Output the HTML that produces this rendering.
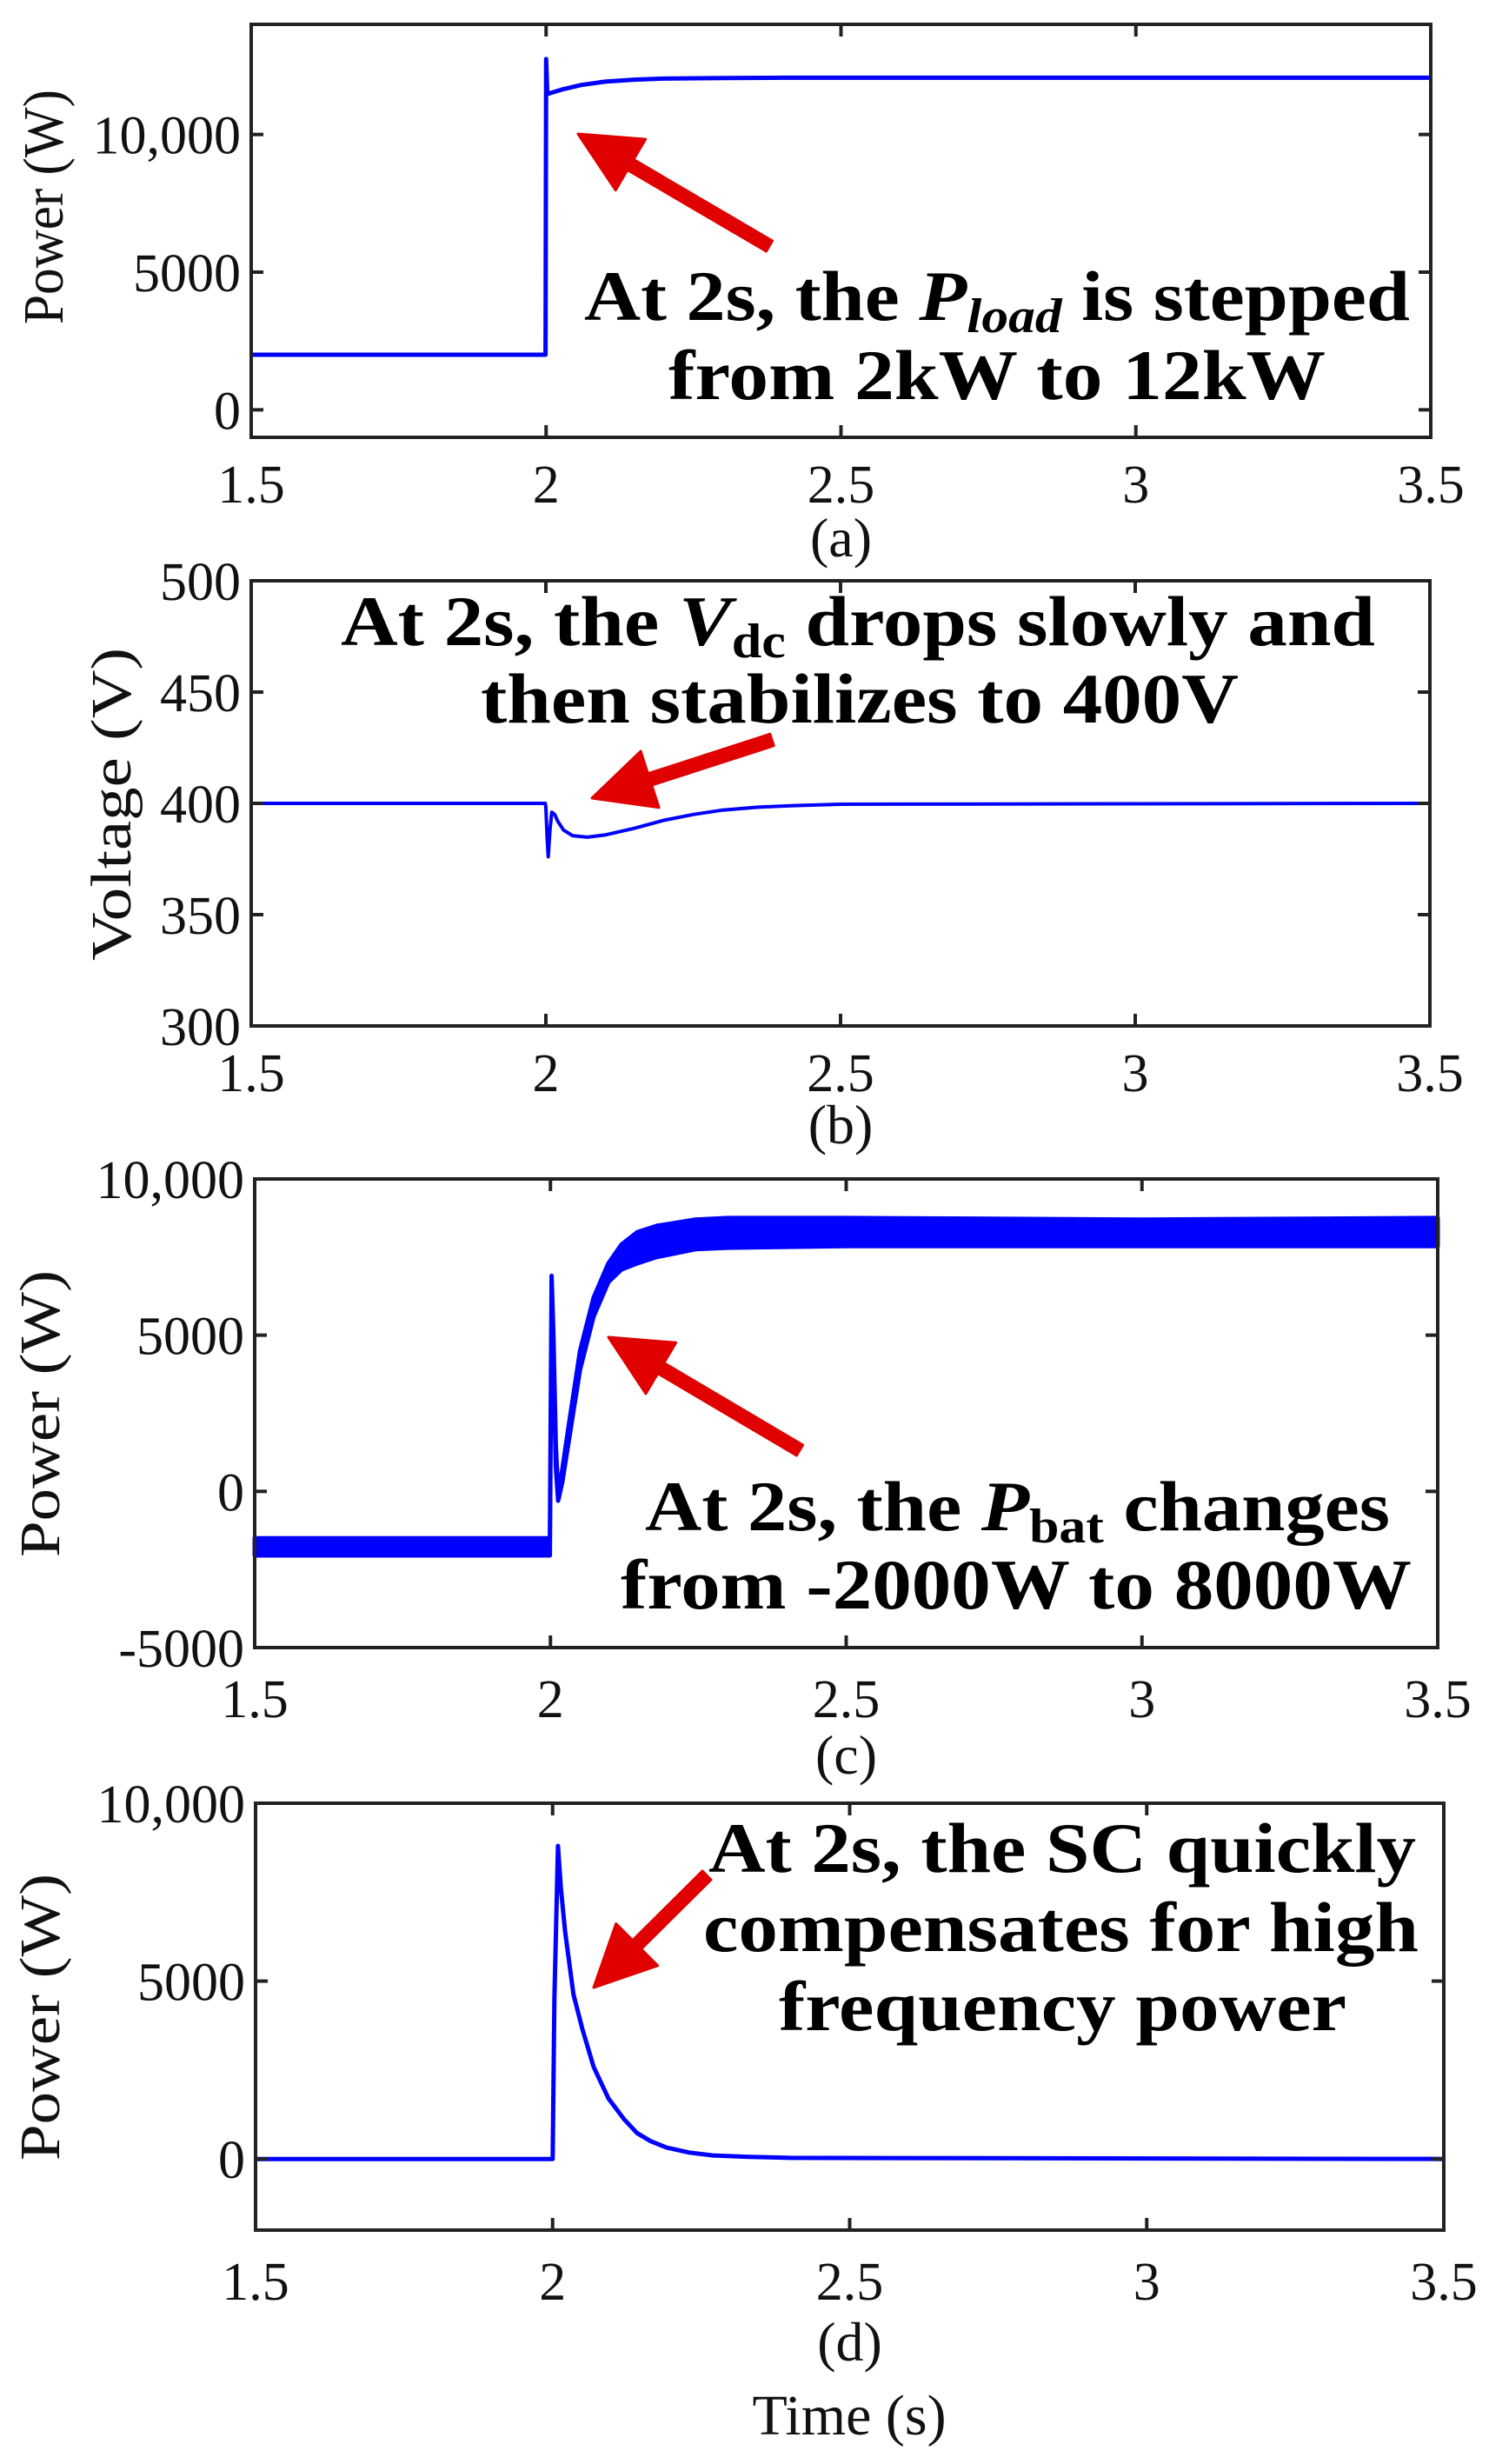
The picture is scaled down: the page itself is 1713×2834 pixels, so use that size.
<!DOCTYPE html>
<html><head><meta charset="utf-8">
<style>
html,body{margin:0;padding:0;background:#fff;}
svg{display:block;}
text{font-family:"Liberation Serif",serif;fill:#111;}
.tick{font-size:62px;}
.ann{font-size:82px;font-weight:bold;fill:#000;}
</style></head>
<body>
<svg id="chart" width="1713" height="2834" viewBox="0 0 1713 2834" xmlns="http://www.w3.org/2000/svg"></svg>
<script>
// ---- data ----
const xTicks = [1.5, 2, 2.5, 3, 3.5];
const xTickLabels = ["1.5", "2", "2.5", "3", "3.5"];

const aTime = [1.5, 1.999, 2.0, 2.002, 2.004, 2.01, 2.03, 2.06, 2.1, 2.15, 2.2, 2.3, 2.4, 3.5];
const aPower = [2000, 2000, 12740, 11500, 11480, 11520, 11650, 11800, 11920, 11990, 12030, 12050, 12060, 12060];
const aYTicks = [0, 5000, 10000];
const aYTickLabels = ["0", "5000", "10,000"];

const bTime = [1.5, 1.999, 2.0, 2.002, 2.004, 2.007, 2.01, 2.015, 2.02, 2.03, 2.045, 2.07, 2.1, 2.15, 2.2, 2.25, 2.3, 2.36, 2.42, 2.5, 3.5];
const bVolt = [400, 400, 398, 385, 376, 388, 396, 395, 392, 388, 385.5, 384.8, 385.8, 388.8, 392.4, 395, 397, 398.3, 399, 399.6, 400];
const bYTicks = [300, 350, 400, 450, 500];
const bYTickLabels = ["300", "350", "400", "450", "500"];

const cTime = [1.5, 1.999, 2.002, 2.005, 2.009, 2.013, 2.02, 2.03, 2.05, 2.073, 2.098, 2.12, 2.147, 2.18, 2.245, 2.3, 2.5, 3.0, 3.5];
const cUpper = [-1500, -1500, 6900, 5000, 1500, -100, 700, 2000, 4500, 6200, 7300, 7900, 8300, 8500, 8700, 8750, 8750, 8700, 8750];
const cLower = [-2050, -2050, 6500, 4300, 800, -300, 300, 1500, 3900, 5600, 6700, 7100, 7300, 7500, 7750, 7800, 7850, 7850, 7850];
const cYTicks = [-5000, 0, 5000, 10000];
const cYTickLabels = ["-5000", "0", "5000", "10,000"];

const dTime = [1.5, 2.0, 2.003, 2.009, 2.014, 2.021, 2.035, 2.05, 2.069, 2.094, 2.12, 2.142, 2.165, 2.192, 2.23, 2.27, 2.33, 2.4, 3.5];
const dPower = [0, 0, 4500, 8800, 7600, 6400, 4630, 3660, 2590, 1700, 1120, 730, 500, 320, 180, 100, 60, 30, 0];
const dYTicks = [0, 5000, 10000];
const dYTickLabels = ["0", "5000", "10,000"];

// ---- drawing ----
const NS = "http://www.w3.org/2000/svg";
const svg = document.getElementById("chart");
function mk(tag, attrs, parent) {
  const e = document.createElementNS(NS, tag);
  for (const k in attrs) e.setAttribute(k, attrs[k]);
  (parent || svg).appendChild(e);
  return e;
}
function makeScale(d0, d1, r0, r1) { return v => r0 + (v - d0) / (d1 - d0) * (r1 - r0); }

function panel(cfg) {
  const g = mk("g", {});
  
  
  const X = makeScale(1.5, 3.5, cfg.L, cfg.R);
  const Y = makeScale(cfg.ymin, cfg.ymax, cfg.B, cfg.T);
  if (cfg.band) {
    let d = "";
    cfg.t.forEach((t, i) => { d += (i ? "L" : "M") + X(t).toFixed(1) + "," + Y(cfg.up[i]).toFixed(1); });
    for (let i = cfg.t.length - 1; i >= 0; i--) d += "L" + X(cfg.t[i]).toFixed(1) + "," + Y(cfg.lo[i]).toFixed(1);
    d += "Z";
    const p = mk("path", { d: d, fill: "#0000ff", stroke: "#0000ff", "stroke-width": 5, "stroke-linejoin": "round" }, g);
    
    
  } else {
    let d = "";
    cfg.t.forEach((t, i) => { d += (i ? "L" : "M") + X(t).toFixed(1) + "," + Y(cfg.v[i]).toFixed(1); });
    const p = mk("path", { d: d, fill: "none", stroke: "#0000ff", "stroke-width": cfg.sw || 5, "stroke-linejoin": "round" }, g);
    
    
  }
  const fr = mk("rect", { x: cfg.L, y: cfg.T, width: cfg.R - cfg.L, height: cfg.B - cfg.T, fill: "none", stroke: "#222", "stroke-width": 4 }, g);
  
  
  xTicks.forEach((t, i) => {
    const x = X(t);
    mk("line", { x1: x, y1: cfg.B, x2: x, y2: cfg.B - 14, stroke: "#222", "stroke-width": 4 }, g);
    mk("line", { x1: x, y1: cfg.T, x2: x, y2: cfg.T + 14, stroke: "#222", "stroke-width": 4 }, g);
    const tx = mk("text", { x: x, y: cfg.xlabY, class: "tick", "text-anchor": "middle", "font-family": "Liberation Serif, serif" }, g);
    tx.textContent = xTickLabels[i];
    
    
  });
  cfg.yt.forEach((v, i) => {
    const y = Y(v);
    mk("line", { x1: cfg.L, y1: y, x2: cfg.L + 14, y2: y, stroke: "#222", "stroke-width": 4 }, g);
    mk("line", { x1: cfg.R, y1: y, x2: cfg.R - 14, y2: y, stroke: "#222", "stroke-width": 4 }, g);
    const tx = mk("text", { x: cfg.L - 12, y: y + 22, class: "tick", "text-anchor": "end", "font-family": "Liberation Serif, serif" }, g);
    tx.textContent = cfg.ytl[i];
    
    
  });
  const yl = mk("text", { x: 0, y: 0, "font-size": 66, "text-anchor": "middle", textLength: cfg.ylLen, lengthAdjust: "spacingAndGlyphs",
    "font-family": "Liberation Serif, serif",
    transform: "translate(" + cfg.ylX + "," + cfg.ylY + ") rotate(-90)" }, g);
  yl.textContent = cfg.ylabel;
  
  
  const cap = mk("text", { x: (cfg.L + cfg.R) / 2, y: cfg.capY, "font-size": 64, "text-anchor": "middle", "font-family": "Liberation Serif, serif" }, g);
  cap.textContent = cfg.cap;
  
  
  return g;
}

function arrow(g, x1, y1, x2, y2) {
  const dx = x2 - x1, dy = y2 - y1, len = Math.hypot(dx, dy);
  const ux = dx / len, uy = dy / len, px = -uy, py = ux;
  const hl = 70, hw = 34, sw = 7;
  const bx = x2 - ux * hl, by = y2 - uy * hl;
  const pts = [
    [x1 + px * sw, y1 + py * sw], [bx + px * sw, by + py * sw], [bx + px * hw, by + py * hw],
    [x2, y2], [bx - px * hw, by - py * hw], [bx - px * sw, by - py * sw], [x1 - px * sw, y1 - py * sw]
  ];
  const a = mk("polygon", { points: pts.map(p => p[0].toFixed(1) + "," + p[1].toFixed(1)).join(" "), fill: "#e00000", stroke: "#e00000", "stroke-width": 3, "stroke-linejoin": "round" }, g);
  
  
}
function ann(g, x, y, len, html) {
  const t = mk("text", { x: x, y: y, class: "ann", textLength: len, lengthAdjust: "spacingAndGlyphs", "font-family": "Liberation Serif, serif" }, g);
  t.innerHTML = html;
  
  
}

const ga = panel({ name: "panel-a-load-power", L: 289, R: 1646, T: 28, B: 503, ymin: -1000, ymax: 14000,
  t: aTime, v: aPower, yt: aYTicks, ytl: aYTickLabels, xlabY: 578, capY: 640, cap: "(a)",
  ylabel: "Power (W)", ylX: 72, ylY: 238, ylLen: 270 });
arrow(ga, 885, 283, 665, 154);
ann(ga, 672, 368, 950, 'At 2s, the <tspan font-style="italic">P</tspan><tspan font-style="italic" font-size="56" dy="14">load</tspan><tspan dy="-14"> is stepped</tspan>');
ann(ga, 769, 459, 756, 'from 2kW to 12kW');

const gb = panel({ name: "panel-b-dc-voltage", L: 289, R: 1645, T: 668, B: 1180, ymin: 300, ymax: 500,
  t: bTime, v: bVolt, yt: bYTicks, ytl: bYTickLabels, xlabY: 1255, capY: 1315, cap: "(b)", sw: 4,
  ylabel: "Voltage (V)", ylX: 150, ylY: 925, ylLen: 360 });
arrow(gb, 888, 851, 681, 918);
ann(gb, 392, 742, 1190, 'At 2s, the <tspan font-style="italic">V</tspan><tspan font-size="56" dy="14">dc</tspan><tspan dy="-14"> drops slowly and</tspan>');
ann(gb, 553, 831, 872, 'then stabilizes to 400V');

const gc = panel({ name: "panel-c-battery-power", L: 293, R: 1654, T: 1356, B: 1895, ymin: -5000, ymax: 10000,
  t: cTime, band: true, up: cUpper, lo: cLower, yt: cYTicks, ytl: cYTickLabels, xlabY: 1975, capY: 2040, cap: "(c)",
  ylabel: "Power (W)", ylX: 68, ylY: 1626, ylLen: 330 });
arrow(gc, 920, 1668, 700, 1538);
ann(gc, 742, 1760, 857, 'At 2s, the <tspan font-style="italic">P</tspan><tspan font-size="56" dy="14">bat</tspan><tspan dy="-14"> changes</tspan>');
ann(gc, 714, 1850, 910, 'from -2000W to 8000W');

const gd = panel({ name: "panel-d-sc-power", L: 294, R: 1661, T: 2074, B: 2565, ymin: -2000, ymax: 10000,
  t: dTime, v: dPower, yt: dYTicks, ytl: dYTickLabels, xlabY: 2645, capY: 2715, cap: "(d)",
  ylabel: "Power (W)", ylX: 68, ylY: 2320, ylLen: 330 });
arrow(gd, 813, 2157, 683, 2286);
ann(gd, 815, 2153, 814, 'At 2s, the SC quickly');
ann(gd, 809, 2244, 823, 'compensates for high');
ann(gd, 896, 2335, 653, 'frequency power');

const xt = mk("text", { x: 977, y: 2800, "font-size": 66, "text-anchor": "middle", "font-family": "Liberation Serif, serif" });
xt.textContent = "Time (s)";


</script>
</body></html>
